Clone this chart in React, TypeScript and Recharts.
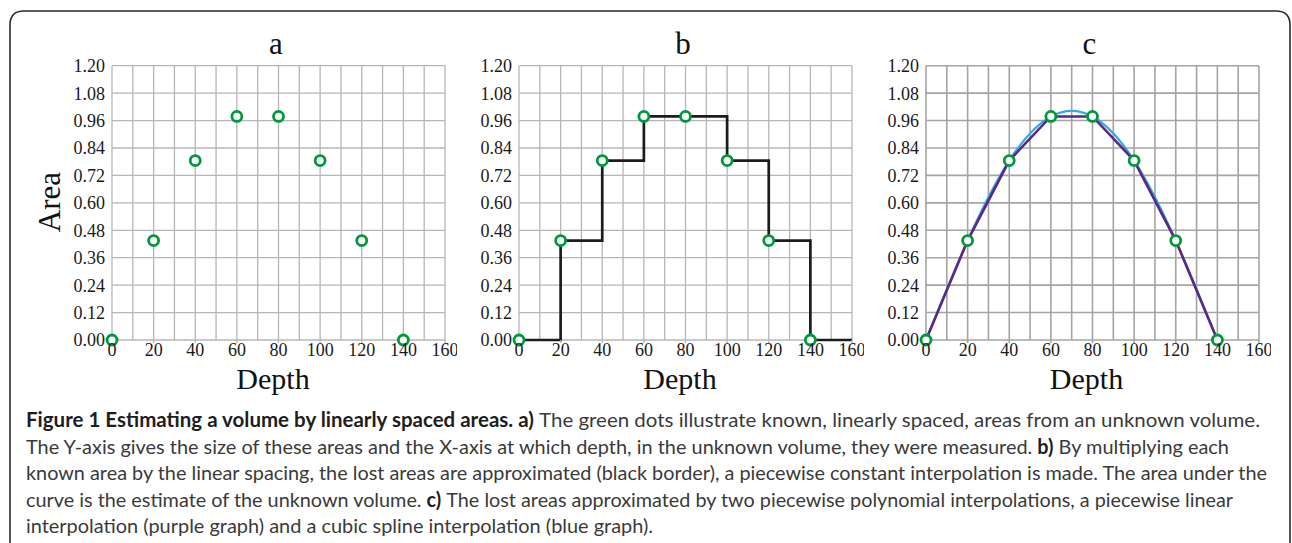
import React from 'react';
import { LineChart, Line, XAxis, YAxis, CartesianGrid } from 'recharts';

// ---- data ----
const depths = [0, 20, 40, 60, 80, 100, 120, 140];
const areas = [0, 0.435, 0.785, 0.978, 0.978, 0.785, 0.435, 0];
const stepDepths = [0, 20, 40, 60, 80, 100, 120, 140, 160];
const stepAreas = [0, 0.435, 0.785, 0.978, 0.978, 0.785, 0.435, 0, 0];
const xTicks = [0, 20, 40, 60, 80, 100, 120, 140, 160];
const xGrid = [0, 10, 20, 30, 40, 50, 60, 70, 80, 90, 100, 110, 120, 130, 140, 150, 160];
const yTicks = [0, 0.12, 0.24, 0.36, 0.48, 0.6, 0.72, 0.84, 0.96, 1.08, 1.2];
const panelTitles = ['a', 'b', 'c'];
const xLabel = 'Depth';
const yLabel = 'Area';

const captionLines = [
  [
    { t: 'Figure 1 Estimating a volume by linearly spaced areas. a)', b: true },
    { t: ' The green dots illustrate known, linearly spaced, areas from an unknown volume.', b: false },
  ],
  [
    { t: 'The Y-axis gives the size of these areas and the X-axis at which depth, in the unknown volume, they were measured. ', b: false },
    { t: 'b)', b: true },
    { t: ' By multiplying each', b: false },
  ],
  [
    { t: 'known area by the linear spacing, the lost areas are approximated (black border), a piecewise constant interpolation is made. The area under the', b: false },
  ],
  [
    { t: 'curve is the estimate of the unknown volume. ', b: false },
    { t: 'c)', b: true },
    { t: ' The lost areas approximated by two piecewise polynomial interpolations, a piecewise linear', b: false },
  ],
  [
    { t: 'interpolation (purple graph) and a cubic spline interpolation (blue graph).', b: false },
  ],
];

// ---- derived tables ----
const points = depths.map((d, i) => ({ depth: d, area: areas[i] }));
const stepPoints = stepDepths.map((d, i) => ({ depth: d, area: stepAreas[i] }));

// ---- layout / style ----
const PLOT_W = 333;
const PLOT_TOP = 65.7;
const Y_AXIS_W = 80;
const CHART_H = 400;
const X_AXIS_H = 30;
const MARGIN_BOTTOM = 30;
const MARGIN_RIGHT = 12;
const panelLefts = [112, 519, 925.5];
const captionLineEnds = [1260, 1229, 1267, 1233, 653];
const captionBaselines = [427, 453.5, 480, 506.5, 533];
const CAPTION_X = 26;
const CAPTION_SIZE = 20;

const GREEN = '#00983c';
const PURPLE = '#5c2785';
const BLUE = '#38a9df';
const SERIF = '"Liberation Serif", "Times New Roman", serif';
const SANS_FAMILY = 'Lato';
const SANS = 'Lato, "Open Sans", sans-serif';

type Seg = { t: string; b: boolean };
type Placed = { text: string; b: boolean; x: number; len: number };

function layoutLine(line: Seg[], target: number): Placed[] {
  const canvas = document.createElement('canvas');
  const ctx = canvas.getContext('2d');
  const measure = (s: string, bold: boolean) => {
    if (!ctx) return s.length * CAPTION_SIZE * 0.47;
    ctx.font = `${bold ? 700 : 400} ${CAPTION_SIZE}px ${SANS_FAMILY}`;
    return ctx.measureText(s).width;
  };
  const raw: { text: string; b: boolean; x0: number; w: number }[] = [];
  let cum = 0;
  for (const seg of line) {
    const trimmedStart = seg.t.replace(/^\s+/, '');
    const lead = seg.t.slice(0, seg.t.length - trimmedStart.length);
    const trimmed = trimmedStart.replace(/\s+$/, '');
    const leadW = lead ? measure(lead, seg.b) : 0;
    raw.push({ text: trimmed, b: seg.b, x0: cum + leadW, w: measure(trimmed, seg.b) });
    cum += measure(seg.t, seg.b);
  }
  const f = target / cum;
  return raw.map((p) => ({ text: p.text, b: p.b, x: CAPTION_X + p.x0 * f, len: p.w * f }));
}

function Panel({ idx }: { idx: number }) {
  const left = panelLefts[idx];
  const gridColor = idx === 2 ? '#a4a4a4' : '#b6b6b6';
  const gridWidth = idx === 2 ? 1.6 : 1.3;
  const tickStyle = { fontFamily: SERIF, fontSize: 18, fill: '#1a1a1a' };
  return (
    <div style={{ position: 'absolute', left: left - Y_AXIS_W, top: 0 }}>
      <LineChart
        width={Y_AXIS_W + PLOT_W + MARGIN_RIGHT}
        height={CHART_H}
        margin={{ top: PLOT_TOP, right: MARGIN_RIGHT, bottom: MARGIN_BOTTOM, left: 0 }}
      >
        <CartesianGrid
          stroke={gridColor}
          strokeWidth={gridWidth}
          horizontalValues={yTicks}
          verticalValues={xGrid}
        />
        <XAxis
          dataKey="depth"
          type="number"
          domain={[0, 160]}
          ticks={xTicks}
          interval={0}
          height={X_AXIS_H}
          tickSize={3}
          tickMargin={0}
          axisLine={false}
          tickLine={{ stroke: gridColor, strokeWidth: gridWidth }}
          tick={tickStyle}
        />
        <YAxis
          dataKey="area"
          type="number"
          domain={[0, 1.2]}
          ticks={yTicks}
          interval={0}
          width={Y_AXIS_W}
          tickSize={0}
          tickMargin={7}
          tickLine={false}
          axisLine={false}
          tick={tickStyle}
          tickFormatter={(v: number) => v.toFixed(2)}
        />
        {idx === 1 && (
          <Line
            data={stepPoints}
            dataKey="area"
            type="stepAfter"
            stroke="#1c1c1c"
            strokeWidth={2.7}
            dot={false}
            activeDot={false}
            isAnimationActive={false}
          />
        )}
        {idx === 2 && (
          <Line
            data={points}
            dataKey="area"
            type="natural"
            stroke={BLUE}
            strokeWidth={2.2}
            dot={false}
            activeDot={false}
            isAnimationActive={false}
          />
        )}
        {idx === 2 && (
          <Line
            data={points}
            dataKey="area"
            type="linear"
            stroke={PURPLE}
            strokeWidth={2.6}
            dot={false}
            activeDot={false}
            isAnimationActive={false}
          />
        )}
        <Line
          data={points}
          dataKey="area"
          type="linear"
          stroke="none"
          dot={{ r: 5, stroke: GREEN, strokeWidth: 2.8, fill: '#ffffff' }}
          activeDot={false}
          isAnimationActive={false}
        />
      </LineChart>
    </div>
  );
}

export default function App() {
  const placedLines = captionLines.map((line, i) => layoutLine(line, captionLineEnds[i] - CAPTION_X));
  return (
    <div
      style={{
        position: 'absolute',
        left: 0,
        top: 0,
        width: 1292,
        height: 543,
        background: '#ffffff',
        overflow: 'hidden',
      }}
    >
      <svg width={1292} height={543} style={{ position: 'absolute', left: 0, top: 0 }}>
        <path
          d="M 10 543 L 10 25 Q 10 11 24 11 L 1276 11 Q 1290 11 1290 25 L 1290 543"
          fill="none"
          stroke="#2a2a2a"
          strokeWidth={1.6}
        />
        {panelTitles.map((t, i) => (
          <text
            key={'t' + i}
            x={panelLefts[i] + 164}
            y={53.5}
            textAnchor="middle"
            fontFamily={SERIF}
            fontSize={31}
            fill="#111"
          >
            {t}
          </text>
        ))}
        {panelTitles.map((t, i) => (
          <text
            key={'d' + i}
            x={panelLefts[i] + 161}
            y={388.5}
            textAnchor="middle"
            fontFamily={SERIF}
            fontSize={30}
            fill="#111"
          >
            {xLabel}
          </text>
        ))}
        <text
          x={60}
          y={202}
          transform="rotate(-90, 60, 202)"
          textAnchor="middle"
          fontFamily={SERIF}
          fontSize={31}
          fill="#111"
        >
          {yLabel}
        </text>
        {placedLines.map((parts, i) =>
          parts.map((p, j) => (
            <text
              key={'c' + i + '-' + j}
              x={p.x}
              y={captionBaselines[i]}
              fontFamily={SANS}
              fontSize={CAPTION_SIZE}
              fontWeight={p.b ? 700 : 400}
              fill={p.b ? '#1e1e1e' : '#3a3a3a'}
              textLength={p.len}
              lengthAdjust="spacingAndGlyphs"
            >
              {p.text}
            </text>
          ))
        )}
      </svg>
      {panelTitles.map((_, i) => (
        <Panel key={i} idx={i} />
      ))}
    </div>
  );
}
